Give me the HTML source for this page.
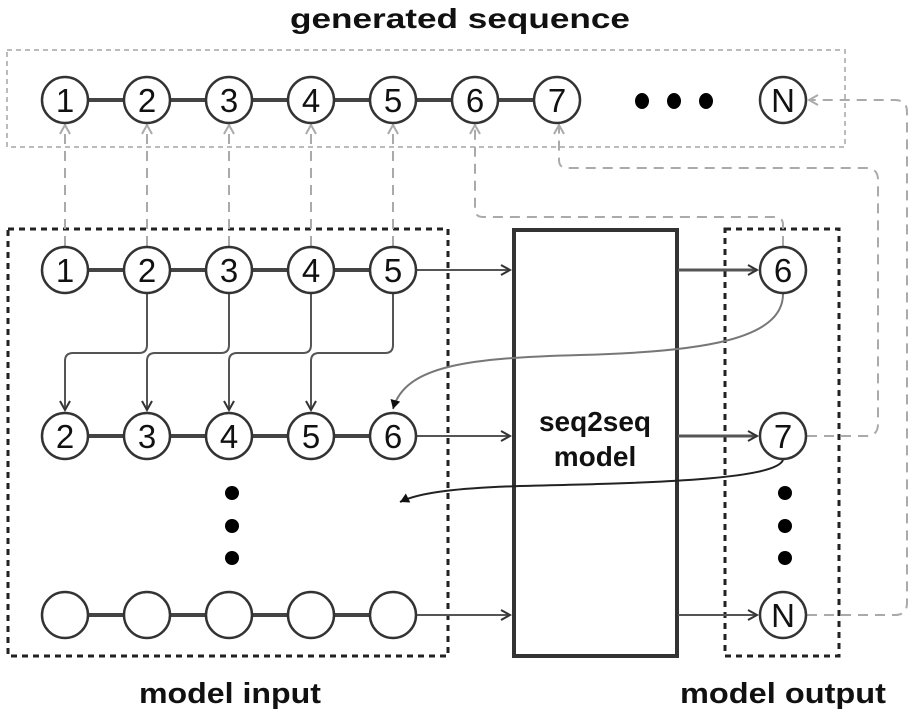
<!DOCTYPE html>
<html><head><meta charset="utf-8"><style>body{margin:0;background:#fff}svg{display:block}</style></head><body>
<svg width="917" height="716" viewBox="0 0 917 716" xmlns="http://www.w3.org/2000/svg" font-family="Liberation Sans, sans-serif">
<defs>
<marker id="a" markerWidth="12" markerHeight="12" refX="10" refY="6" orient="auto" markerUnits="userSpaceOnUse"><path d="M1,1 L10,6 L1,11" fill="none" stroke="#333" stroke-width="2"/></marker>
<marker id="g" markerWidth="12" markerHeight="12" refX="10" refY="6" orient="auto" markerUnits="userSpaceOnUse"><path d="M1,1 L10,6 L1,11" fill="none" stroke="#aaa" stroke-width="2"/></marker>
<marker id="t" markerWidth="12" markerHeight="12" refX="10" refY="6" orient="auto" markerUnits="userSpaceOnUse"><path d="M1,1 L10,6 L1,11 Z" fill="#111"/></marker>
</defs>
<text x="460" y="28" font-size="28" font-weight="bold" text-anchor="middle" textLength="340" lengthAdjust="spacingAndGlyphs" fill="#111">generated sequence</text>
<rect x="7" y="50" width="838" height="97" fill="none" stroke="#bbb" stroke-width="2" stroke-dasharray="5,4"/>
<rect x="8" y="229" width="440" height="427" fill="none" stroke="#222" stroke-width="3" stroke-dasharray="6,5"/>
<rect x="725" y="229" width="114" height="427" fill="none" stroke="#222" stroke-width="3" stroke-dasharray="6,5"/>
<rect x="514" y="230" width="163" height="426" fill="none" stroke="#333" stroke-width="4"/>
<text x="595" y="431" font-size="28" font-weight="bold" text-anchor="middle" fill="#111">seq2seq</text>
<text x="595" y="466" font-size="28" font-weight="bold" text-anchor="middle" fill="#111">model</text>
<g fill="none" stroke="#aaa" stroke-width="2" stroke-dasharray="10,7">
<path d="M65,246 V125" marker-end="url(#g)"/>
<path d="M147,246 V125" marker-end="url(#g)"/>
<path d="M229,246 V125" marker-end="url(#g)"/>
<path d="M311,246 V125" marker-end="url(#g)"/>
<path d="M393,246 V125" marker-end="url(#g)"/>
<path d="M783,246 V225 Q783,217 775,217 H483 Q475,217 475,209 V125" marker-end="url(#g)"/>
<path d="M807,436 H866 Q878,436 878,424 V180 Q878,168 866,168 H567 Q559,168 559,160 V125" marker-end="url(#g)"/>
<path d="M807,615 H895 Q907,615 907,603 V112 Q907,100 895,100 H809" marker-end="url(#g)"/>
</g>
<g stroke="#444" stroke-width="4">
<path d="M65,100 H557"/><path d="M65,270 H393"/><path d="M65,436 H393"/><path d="M65,615 H393"/>
</g>
<g fill="none" stroke="#555" stroke-width="2">
<path d="M417,270 H510" marker-end="url(#a)"/>
<path d="M417,436 H510" marker-end="url(#a)"/>
<path d="M417,615 H510" marker-end="url(#a)"/>
<path d="M678,270 H757" stroke-width="3" marker-end="url(#a)"/>
<path d="M678,436 H757" stroke-width="3" marker-end="url(#a)"/>
<path d="M678,615 H757" marker-end="url(#a)"/>
<path d="M147,294 V345 Q147,353 139,353 H73 Q65,353 65,361 V410" marker-end="url(#a)"/>
<path d="M229,294 V345 Q229,353 221,353 H155 Q147,353 147,361 V410" marker-end="url(#a)"/>
<path d="M311,294 V345 Q311,353 303,353 H237 Q229,353 229,361 V410" marker-end="url(#a)"/>
<path d="M393,294 V345 Q393,353 385,353 H319 Q311,353 311,361 V410" marker-end="url(#a)"/>
<path d="M783,294 C783,340 700,352 580,355 C470,358 405,365 393,409" stroke="#777" marker-end="url(#t)"/>
<path d="M783,460 C775,480 650,483 520,486 C460,488 420,492 400,502" stroke="#222" marker-end="url(#t)"/>
</g>
<g fill="#fff" stroke="#333" stroke-width="2.5">
<circle cx="65" cy="100" r="23"/><circle cx="147" cy="100" r="23"/><circle cx="229" cy="100" r="23"/><circle cx="311" cy="100" r="23"/><circle cx="393" cy="100" r="23"/><circle cx="475" cy="100" r="23"/><circle cx="557" cy="100" r="23"/><circle cx="783" cy="100" r="23"/>
<circle cx="65" cy="270" r="23"/><circle cx="147" cy="270" r="23"/><circle cx="229" cy="270" r="23"/><circle cx="311" cy="270" r="23"/><circle cx="393" cy="270" r="23"/>
<circle cx="65" cy="436" r="23"/><circle cx="147" cy="436" r="23"/><circle cx="229" cy="436" r="23"/><circle cx="311" cy="436" r="23"/><circle cx="393" cy="436" r="23"/>
<circle cx="65" cy="615" r="23"/><circle cx="147" cy="615" r="23"/><circle cx="229" cy="615" r="23"/><circle cx="311" cy="615" r="23"/><circle cx="393" cy="615" r="23"/>
<circle cx="783" cy="270" r="23"/><circle cx="783" cy="436" r="23"/><circle cx="783" cy="615" r="23"/>
</g>
<g font-size="33" text-anchor="middle" fill="#111">
<text x="65" y="112">1</text><text x="147" y="112">2</text><text x="229" y="112">3</text><text x="311" y="112">4</text><text x="393" y="112">5</text><text x="475" y="112">6</text><text x="557" y="112">7</text><text x="783" y="112">N</text>
<text x="65" y="282">1</text><text x="147" y="282">2</text><text x="229" y="282">3</text><text x="311" y="282">4</text><text x="393" y="282">5</text>
<text x="65" y="448">2</text><text x="147" y="448">3</text><text x="229" y="448">4</text><text x="311" y="448">5</text><text x="393" y="448">6</text>
<text x="783" y="282">6</text><text x="783" y="448">7</text><text x="783" y="627">N</text>
</g>
<g fill="#000">
<ellipse cx="642" cy="101" rx="7" ry="8"/><ellipse cx="674" cy="101" rx="7" ry="8"/><ellipse cx="706" cy="101" rx="7" ry="8"/>
<circle cx="232" cy="493" r="7"/><circle cx="232" cy="526" r="7"/><circle cx="232" cy="558" r="7"/>
<circle cx="785" cy="493" r="7"/><circle cx="785" cy="526" r="7"/><circle cx="785" cy="558" r="7"/>
</g>
<text x="230" y="703" font-size="29" font-weight="bold" text-anchor="middle" textLength="182" lengthAdjust="spacingAndGlyphs" fill="#111">model input</text>
<text x="783" y="703" font-size="29" font-weight="bold" text-anchor="middle" textLength="206" lengthAdjust="spacingAndGlyphs" fill="#111">model output</text>
</svg>
</body></html>
